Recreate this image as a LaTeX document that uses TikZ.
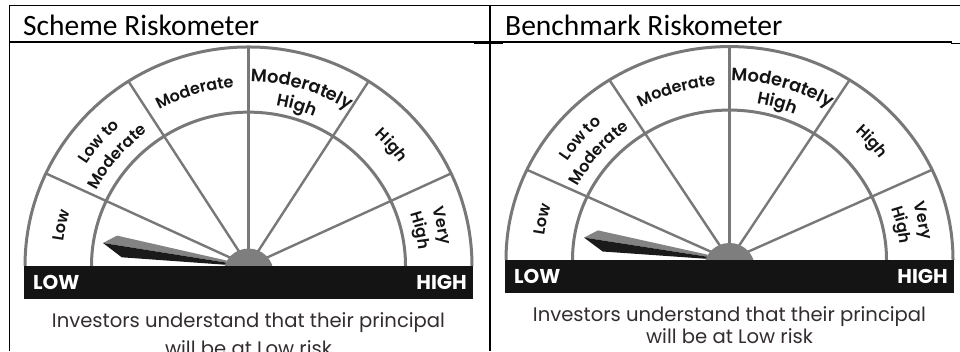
\documentclass[tikz,border=0pt]{standalone}
\usepackage{fontspec}
\usetikzlibrary{decorations.text}
\newfontfamily\hdrfont{Carlito}
\newfontfamily\popfont{Poppins}
\IfFontExistsTF{Poppins SemiBold}
  {\newfontfamily\lblfont{Poppins SemiBold}}
  {\newfontfamily\lblfont{Poppins}[FakeBold=0.6]}

\definecolor{gline}{HTML}{787878}
\definecolor{ghub}{HTML}{7E7E7E}
\definecolor{nlight}{HTML}{838383}
\definecolor{ndark}{HTML}{1A1A1A}
\definecolor{barblk}{HTML}{141414}
\definecolor{lbltext}{HTML}{141414}
\definecolor{captext}{HTML}{332D30}

\tikzset{
  rim/.style={draw=gline, line width=3pt},
  spoke/.style={draw=gline, line width=2.4pt},
  tline/.style={draw=black, line width=1.2pt},
  hdr/.style={inner sep=0pt, anchor=base west, font=\hdrfont\fontsize{29.5}{29.5}\selectfont},
  barlbl/.style={inner sep=0pt, text=white, font=\popfont\bfseries\fontsize{20}{20}\selectfont},
  caption/.style={inner sep=0pt, anchor=base, text=captext, font=\popfont\fontsize{19.6}{19.6}\selectfont},
}

% text set along an elliptical arc: centre angle, baseline radius, text, vertical squash, size
\newcommand\gaugelabel[5]{%
  \pgfmathsetmacro\gsa{#1+40}%
  \pgfmathsetmacro\gea{#1-40}%
  \pgfmathsetmacro\gry{#2*#4}%
  \path[decorate, decoration={text along path, text align=center,
      text={|\lblfont\fontsize{#5}{#5}\selectfont\color{lbltext}|#3}}]
    (\gsa:#2 and \gry) arc[start angle=\gsa, end angle=\gea, x radius=#2, y radius=\gry];
}

% one riskometer: centre x, centre y, vertical squash, name prefix, second caption line offset
\newcommand\riskometer[5]{%
  \begin{scope}[shift={(#1,#2)}]
    \begin{scope}[yscale=#3]
      \foreach \a in {25,57.5,90,122.5,155}
        \draw[spoke] (0,0) -- (\a:223.5);
      \draw[rim] (0:157) arc[start angle=0, end angle=180, radius=157];
      \draw[rim] (0:223.5) arc[start angle=0, end angle=180, radius=223.5];
      % pointer, light upper half and dark lower half
      \fill[nlight] (-145.5,23.5) -- (-131.5,31) -- (-22,5.6) -- (-22,3.4) -- cycle;
      \fill[ndark] (-145.5,23.5) -- (-22,3.4) -- (-22,1.2) -- (-126.8,8.9) -- cycle;
      \fill[ghub] (0,-7.2) circle[radius=25];
    \end{scope}
    \gaugelabel{167.5}{187}{Low}{#3}{16}
    \gaugelabel{140}{192}{Low to}{#3}{16}
    \gaugelabel{140}{170}{Moderate}{#3}{16}
    \gaugelabel{107}{183}{Moderate}{#3}{16}
    \gaugelabel{73.5}{188}{Moderately}{#3}{17.8}
    \gaugelabel{73.5}{166}{High}{#3}{17}
    \gaugelabel{40.5}{184}{High}{#3}{16}
    \gaugelabel{11.8}{193}{Very}{#3}{16}
    \gaugelabel{11.8}{171}{High}{#3}{16}
    \fill[barblk] (-224.5,0.5) rectangle (224.5,-32.5);
    \node[barlbl, anchor=base west] (#4low) at (-215.5,-23.5) {LOW};
    \node[barlbl, anchor=base east] (#4high) at (218.5,-23.5) {HIGH};
    \node[caption] (#4capa) at (0,-61.3) {Investors understand that their principal};
    \node[caption] (#4capb) at (0,-#5) {will be at Low risk};
  \end{scope}
}

\begin{document}
\begin{tikzpicture}[x=1pt, y=1pt]
  \useasboundingbox (0,0) rectangle (960,-351);
  \clip (0,0) rectangle (960,-351);
  \fill[white] (0,0) rectangle (960,-351);

  % table frame
  \draw[tline] (9,-5.5) -- (960,-5.5);
  \draw[tline] (9.5,-5) -- (9.5,-351);
  \draw[tline] (490,-5) -- (490,-351);
  \draw[tline] (9,-42) -- (952,-42);
  \draw[tline] (474,-43.2) -- (503,-43.2);
  \draw[tline] (951,-43.2) -- (960,-43.2);

  \node[hdr] (schemehdr) at (23,-35) {Scheme Riskometer};
  \node[hdr] (benchhdr) at (505,-35) {Benchmark Riskometer};

  \riskometer{248.5}{-266}{0.98}{s}{89}
  \riskometer{729.5}{-260}{0.955}{b}{83}
\end{tikzpicture}
\end{document}
